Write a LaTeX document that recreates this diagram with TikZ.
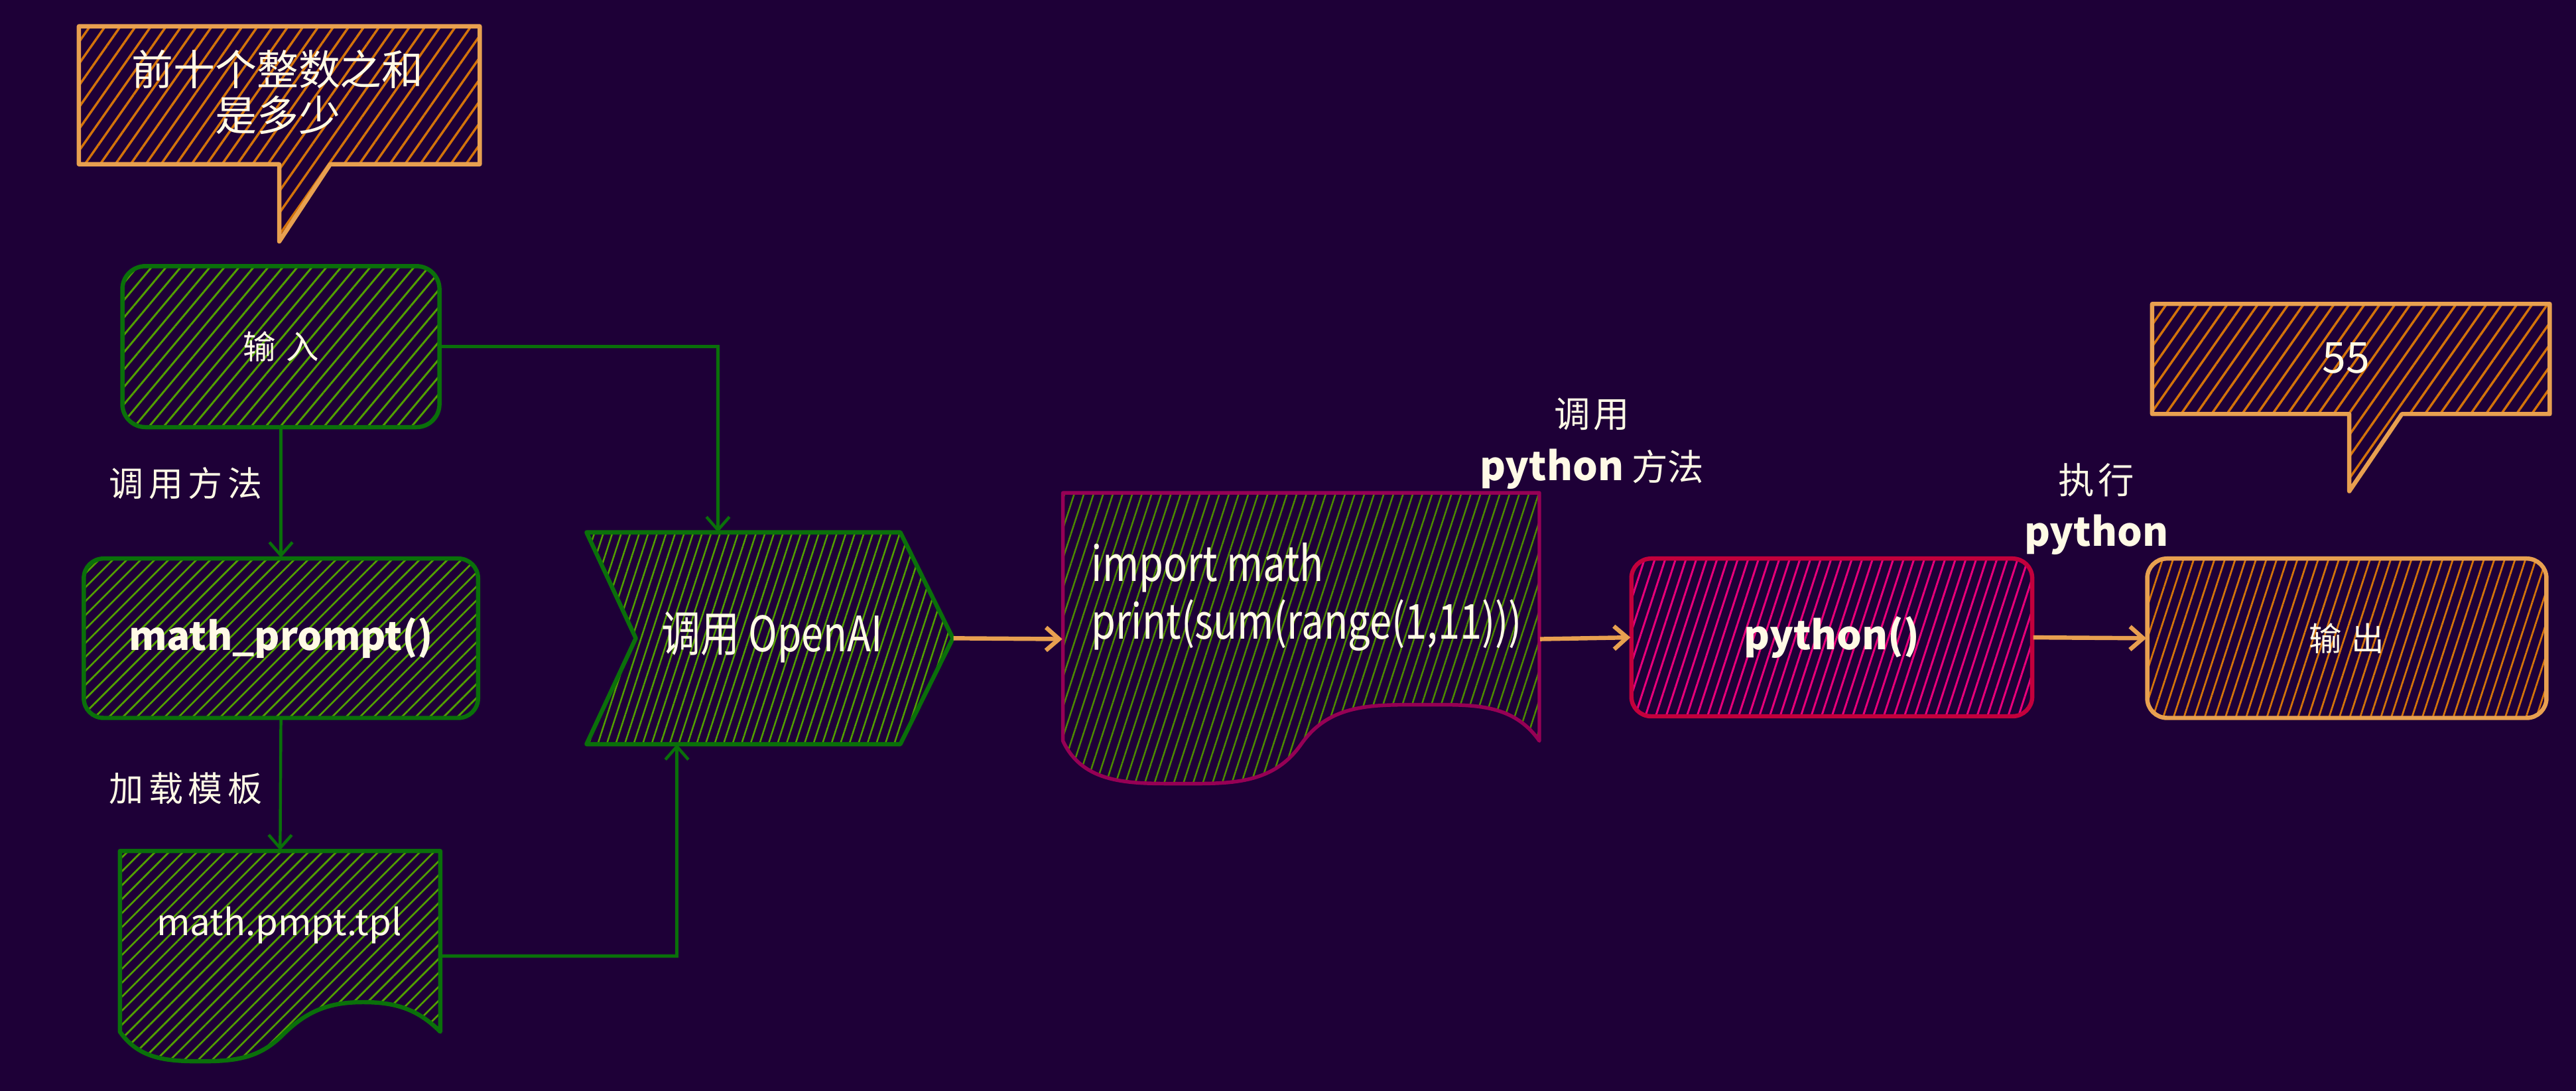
\documentclass[tikz,border=0pt]{standalone}
\usepackage{fontspec}
\usepackage{graphicx}
\setmainfont{Noto Sans CJK SC}
\usetikzlibrary{arrows.meta,patterns.meta,calc}
\definecolor{bg}{RGB}{30,0,55}
\definecolor{gstroke}{RGB}{10,112,10}
\definecolor{ghatch}{RGB}{82,160,0}
\definecolor{ostroke}{RGB}{232,160,80}
\definecolor{ohatch}{RGB}{212,115,10}
\definecolor{dstroke}{RGB}{150,0,85}
\definecolor{dhatch}{RGB}{76,138,0}
\definecolor{pstroke}{RGB}{195,0,60}
\definecolor{phatch}{RGB}{232,0,122}
\definecolor{ink}{RGB}{255,250,230}
\newcommand\fsz[2]{\fontsize{#1}{#2}\selectfont}
\tikzset{
  txt/.style={text=ink, inner sep=0pt, align=center},
  hatchG/.style={pattern={Lines[angle=50,distance=3.4pt,line width=0.6pt]}, pattern color=ghatch},
  hatchGs/.style={pattern={Lines[angle=72,distance=2.6pt,line width=0.5pt]}, pattern color=ghatch},
  hatchD/.style={pattern={Lines[angle=72,distance=2.8pt,line width=0.5pt]}, pattern color=dhatch},
  hatchO/.style={pattern={Lines[angle=55,distance=3.8pt,line width=0.7pt]}, pattern color=ohatch},
  hatchOs/.style={pattern={Lines[angle=72,distance=3pt,line width=0.55pt]}, pattern color=ohatch},
  hatchP/.style={pattern={Lines[angle=72,distance=3pt,line width=0.6pt]}, pattern color=phatch},
  gbox/.style={draw=gstroke, line width=1.3pt, rounded corners=7pt, hatchG, txt},
  ghost/.style={inner sep=0pt, draw=none},
  garrow/.style={draw=gstroke, line width=0.9pt, -{Straight Barb[length=4pt,width=7pt]}},
  oarrow/.style={draw=ostroke, line width=1.3pt, -{Straight Barb[length=4pt,width=7pt]}},
}
\begin{document}
\begin{tikzpicture}[x=0.5pt,y=0.5pt]
\fill[bg] (0,0) rectangle (1568,-664);
\useasboundingbox (0,0) rectangle (1568,-664);

% speech bubble 1
\draw[ostroke, line width=1.3pt, hatchO, line join=round]
  (48,-16) -- (292,-16) -- (292,-100) -- (201,-100) -- (170,-147) -- (170,-100) -- (48,-100) -- cycle;
\node[txt, font=\fsz{12.7}{14}] (b1) at (169,-56) {前十个整数之和\\是多少};

% input box
\node[gbox, minimum width=96.5pt, minimum height=49pt, font=\fsz{10}{12}] (in) at (171,-211) {输\hspace{3pt}入};
\node[txt, font=\fsz{10.5}{12}] (l1) at (113,-294) {调\hspace{1.5pt}用\hspace{1.5pt}方\hspace{1.5pt}法};

% math_prompt box
\node[gbox, pattern={Lines[angle=45,distance=3pt,line width=0.55pt]}, minimum width=120pt, minimum height=48.5pt, rounded corners=6pt, font=\bfseries\fsz{11.8}{14}] (mp) at (171,-388.5) {math\_prompt()};
\node[txt, font=\fsz{10.5}{12}] (l2) at (113,-480) {加\hspace{1.5pt}载\hspace{1.5pt}模\hspace{1.5pt}板};

% template document
\node[ghost, minimum width=97.5pt, minimum height=64pt] (tpl) at (170.5,-582) {};
\draw[gstroke, line width=1.3pt, pattern={Lines[angle=45,distance=3pt,line width=0.55pt]}, pattern color=ghatch, line join=round]
  (73,-518) -- (268,-518) -- (268,-628)
  to[out=135,in=0] (221,-610) to[out=180,in=45] (172,-630)
  to[out=-135,in=0] (122,-646) to[out=180,in=-55] (73,-628) -- cycle;
\node[txt, font=\fsz{11}{13}] (tpltext) at (170,-563) {math.pmpt.tpl};

% OpenAI step shape
\node[ghost, minimum width=111.5pt, minimum height=64.5pt] (ai) at (468.5,-388.5) {};
\draw[gstroke, line width=1.3pt, hatchGs, line join=round]
  (357,-324) -- (548,-324) -- (580,-388.5) -- (548,-453) -- (357,-453) -- (387,-388.5) -- cycle;
\node[txt, font=\fsz{13.5}{14}] (aitext) at (470,-388) {\scalebox{0.88}[1.1]{调用 OpenAI}};

% code document
\node[ghost, minimum width=145pt, minimum height=89pt] (doc) at (792,-389) {};
\draw[dstroke, line width=1.1pt, hatchD, line join=round]
  (647,-300) -- (937,-300) -- (937,-451)
  to[out=125,in=0] (867,-429) to[out=180,in=55] (792,-453)
  to[out=-125,in=0] (716,-477) to[out=180,in=-65] (647,-451) -- cycle;
\node[txt, align=left, anchor=west, font=\fsz{14}{17.5}] (code) at (664,-363.5)
  {\scalebox{0.86}[1.05]{import math}\\\scalebox{0.86}[1.05]{print(sum(range(1,11)))}};

% python() box
\node[draw=pstroke, line width=1.3pt, rounded corners=6pt, hatchP, txt, minimum width=122pt, minimum height=48pt, font=\bfseries\fsz{12}{14}] (py) at (1115,-388) {python()};

% output box
\node[draw=ostroke, line width=1.3pt, rounded corners=6pt, hatchOs, txt, minimum width=121.5pt, minimum height=48.5pt, font=\fsz{10}{12}] (out) at (1428.5,-388.5) {输\hspace{3pt}出};

% speech bubble 2
\draw[ostroke, line width=1.3pt, hatchO, line join=round]
  (1310,-185) -- (1552,-185) -- (1552,-252) -- (1462,-252) -- (1430,-299) -- (1430,-252) -- (1310,-252) -- cycle;
\node[txt, font=\fsz{13}{14}] (b2) at (1428,-218) {55};

% labels
\node[txt, font=\fsz{11}{16}] (l3) at (969,-270) {调\hspace{1pt}用\\{\bfseries\fsz{12}{16}python} 方法};
\node[txt, font=\fsz{11}{16}] (l4) at (1276,-310) {执\hspace{1pt}行\\{\bfseries\fsz{12}{16}python}};

% connectors
\coordinate (aiT) at (437,-324);
\coordinate (aiB) at (412,-453);
\draw[garrow] (in.south) -- (mp.north);
\draw[garrow] (mp.south) -- (tpl.north);
\draw[garrow] (in.east) -| (aiT);
\draw[garrow] (tpl.east) -| (aiB);
\draw[oarrow] (ai.east) -- (doc.west);
\draw[oarrow] (doc.east) -- (py.west);
\draw[oarrow] (py.east) -- (out.west);
\end{tikzpicture}
\end{document}
